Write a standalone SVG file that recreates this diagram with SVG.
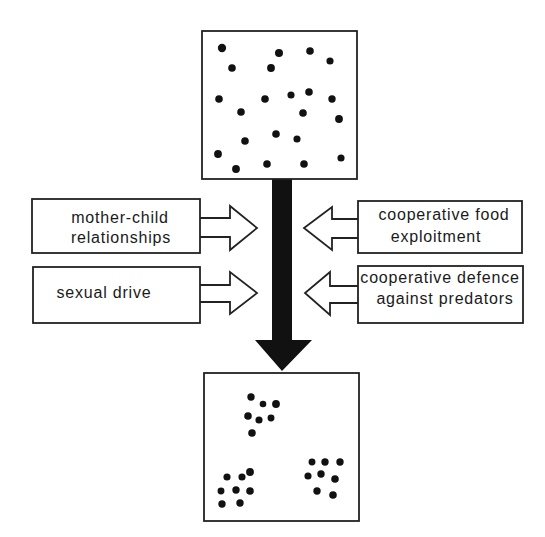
<svg xmlns="http://www.w3.org/2000/svg" width="545" height="537" viewBox="0 0 545 537">
<style>
.box{fill:#fff;stroke:#222;stroke-width:1.8}
.harrow{fill:#fff;stroke:#222;stroke-width:1.8;stroke-linejoin:miter}
.lbl{font-family:"Liberation Sans",Arial,sans-serif;font-size:16px;fill:#1a1a1a;text-anchor:middle;letter-spacing:0.8px}
.dot circle{fill:#111;transform-box:fill-box;transform-origin:center;transform:scale(1.15)}
</style>
<rect width="545" height="537" fill="#fff"/>
<g id="connectors">
<path class="harrow" d="M200,218 L230,218 L230,206 L257,228 L230,250 L230,237 L200,237"/>
<path class="harrow" d="M200,285 L230,285 L230,272 L257,293 L230,314 L230,302 L200,302"/>
<path class="harrow" d="M358,219 L332,219 L332,207 L304,228 L332,250 L332,238 L358,238"/>
<path class="harrow" d="M358,286 L330,286 L330,272 L305,293 L330,315 L330,303 L358,303"/>
<polygon fill="#111" points="272,179 292,179 292,340 312,340 282,371 255,340 272,340"/>
</g>
<g id="top-box">
<rect class="box" x="202" y="31" width="155" height="148"/>
<g class="dot">
<circle cx="222" cy="48" r="3.6"/><circle cx="279" cy="53" r="3.5"/><circle cx="310" cy="51" r="3.3"/><circle cx="330" cy="61" r="3.1"/>
<circle cx="232" cy="68" r="3.3"/><circle cx="271" cy="68" r="3.4"/><circle cx="219" cy="99" r="3.3"/><circle cx="265" cy="99" r="3.3"/>
<circle cx="291" cy="95" r="3.1"/><circle cx="309" cy="92" r="3.3"/><circle cx="332" cy="99" r="3.2"/><circle cx="241" cy="112" r="3.3"/>
<circle cx="303" cy="113" r="3.3"/><circle cx="339" cy="119" r="3.4"/><circle cx="276" cy="134" r="3.3"/><circle cx="245" cy="141" r="3.3"/>
<circle cx="297" cy="139" r="3.1"/><circle cx="218" cy="154" r="3.4"/><circle cx="341" cy="158" r="3.1"/><circle cx="236" cy="169" r="3.4"/>
<circle cx="267" cy="164" r="3.3"/><circle cx="304" cy="164" r="3.3"/>
</g>
</g>
<g id="bottom-box">
<rect class="box" x="204" y="373" width="155" height="148"/>
<g class="dot">
<circle cx="251" cy="397" r="3.2"/><circle cx="263" cy="404" r="2.9"/><circle cx="276" cy="404" r="3.4"/><circle cx="248" cy="416" r="3.3"/>
<circle cx="259" cy="420" r="3.1"/><circle cx="271" cy="418" r="3"/><circle cx="252" cy="433" r="3.3"/>
<circle cx="250" cy="472" r="3.4"/><circle cx="242" cy="477" r="3.1"/><circle cx="227" cy="477" r="3.1"/><circle cx="236" cy="490" r="3.2"/>
<circle cx="250" cy="491" r="3.3"/><circle cx="221" cy="491" r="3"/><circle cx="222" cy="504" r="3.2"/><circle cx="240" cy="503" r="3.2"/>
<circle cx="312" cy="462" r="3"/><circle cx="325" cy="462" r="3.2"/><circle cx="340" cy="462" r="3.2"/><circle cx="308" cy="476" r="3.1"/>
<circle cx="321" cy="474" r="3.2"/><circle cx="335" cy="479" r="3.3"/><circle cx="317" cy="491" r="3.2"/><circle cx="333" cy="495" r="3.3"/>
</g>
</g>
<g id="mother-child">
<rect class="box" x="32" y="199" width="168" height="54"/>
<text class="lbl" x="120" y="223">mother-child</text>
<text class="lbl" x="121" y="243">relationships</text>
</g>
<g id="sexual-drive">
<rect class="box" x="33" y="267" width="167" height="56"/>
<text class="lbl" x="104" y="298">sexual drive</text>
</g>
<g id="food">
<rect class="box" x="358" y="201" width="164" height="52"/>
<text class="lbl" x="444" y="220">cooperative food</text>
<text class="lbl" x="436" y="242">exploitment</text>
</g>
<g id="defence">
<rect class="box" x="358" y="266" width="165" height="57"/>
<text class="lbl" x="440" y="283">cooperative defence</text>
<text class="lbl" x="445" y="304">against predators</text>
</g>
</svg>
